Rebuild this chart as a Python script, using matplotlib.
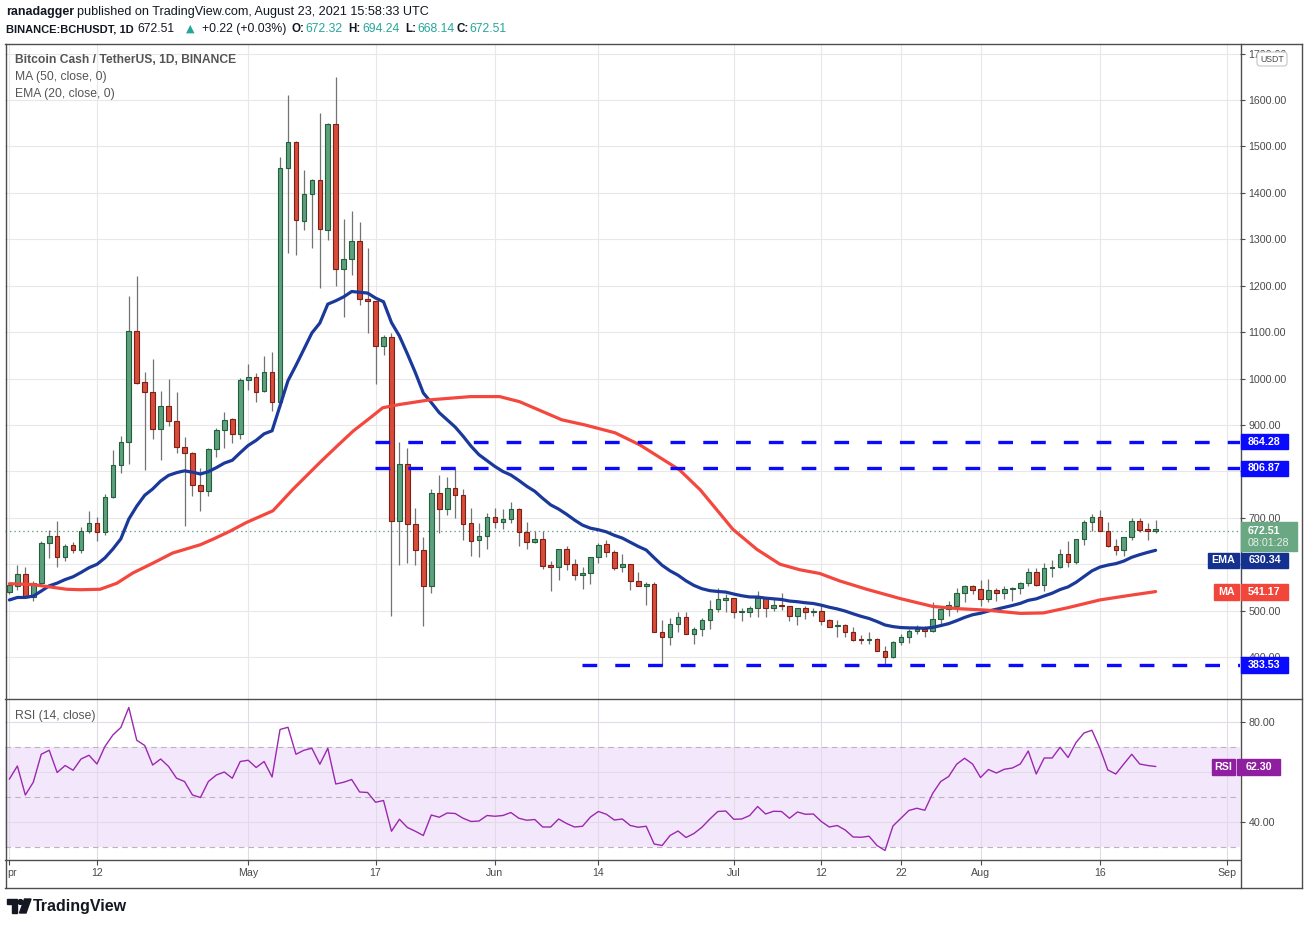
import numpy as np
import matplotlib
matplotlib.use('Agg')
import matplotlib.pyplot as plt
from matplotlib.transforms import IdentityTransform
from matplotlib.patches import Rectangle, FancyBboxPatch, Polygon, Circle

plt.rcParams['font.family'] = ['Liberation Sans', 'DejaVu Sans']
plt.rcParams['lines.scale_dashes'] = False

# ---------------- data (daily candles, Apr 1 2021 .. Aug 23 2021) ----------------
opens = [540, 554, 579, 529, 559, 645, 660, 615, 641, 630, 671, 689, 669, 745, 814, 863, 1102, 992, 971, 891,
         941, 908, 852, 840, 770, 757, 848, 890, 912, 881, 996, 1004, 973, 1014, 950, 1453, 1509, 1339, 1397, 1428,
         1320, 1548, 1236, 1257, 1296, 1171, 1167, 1071, 1090, 694, 816, 687, 630, 552, 753, 719, 764, 749, 689, 652,
         661, 702, 691, 698, 719, 670, 648, 655, 597, 594, 633, 601, 577, 580, 615, 643, 627, 593, 600, 563,
         552, 557, 455, 444, 472, 487, 449, 460, 480, 503, 523, 527, 496, 496, 505, 527, 505, 512, 509, 489,
         505, 496, 499, 480, 466, 469, 455, 439, 436, 439, 414, 399, 432, 444, 456, 461, 456, 482, 504, 511,
         539, 552, 546, 526, 545, 539, 546, 549, 559, 584, 556, 591, 593, 621, 605, 655, 691, 702, 671, 639,
         631, 659, 693, 674, 672.32]
highs = [560, 599, 594, 564, 649, 674, 694, 644, 648, 681, 715, 701, 752, 847, 877, 1177, 1220, 1014, 1041, 974,
         1000, 972, 875, 842, 808, 850, 893, 928, 915, 1001, 1032, 1011, 1049, 1057, 1477, 1611, 1511, 1449, 1430, 1571,
         1551, 1650, 1343, 1361, 1338, 1282, 1167, 1093, 1098, 863, 850, 721, 659, 761, 793, 788, 806, 761, 721, 689,
         710, 721, 718, 735, 720, 690, 671, 671, 607, 633, 640, 612, 595, 615, 645, 652, 630, 621, 600, 584,
         561, 562, 480, 485, 496, 498, 464, 485, 523, 548, 535, 527, 505, 510, 543, 528, 525, 538, 509, 505,
         509, 505, 509, 483, 480, 471, 464, 447, 454, 442, 424, 435, 450, 461, 468, 466, 518, 511, 521, 548,
         555, 555, 566, 568, 548, 552, 550, 562, 591, 591, 602, 609, 632, 651, 655, 695, 709, 716, 691, 655,
         659, 700, 700, 689, 694.24]
lows = [535, 545, 527, 520, 556, 613, 593, 607, 624, 624, 667, 651, 663, 742, 796, 816, 988, 803, 870, 825,
        897, 839, 683, 746, 714, 747, 830, 850, 860, 869, 975, 949, 971, 930, 939, 1270, 1267, 1320, 1282, 1196,
        1299, 1199, 1132, 1222, 1159, 1098, 989, 1050, 489, 598, 602, 598, 467, 539, 668, 705, 700, 652, 617, 616,
        633, 678, 675, 688, 640, 633, 645, 589, 542, 566, 587, 567, 546, 558, 602, 616, 588, 584, 545, 552,
        512, 455, 381, 427, 455, 449, 428, 446, 460, 497, 497, 485, 477, 487, 487, 487, 500, 502, 478, 470,
        483, 489, 470, 464, 444, 444, 435, 428, 429, 414, 385, 397, 425, 431, 450, 443, 455, 466, 489, 498,
        518, 536, 511, 519, 521, 524, 521, 536, 552, 552, 543, 573, 591, 593, 601, 641, 671, 671, 637, 620,
        618, 652, 669, 652, 668.14]
closes = [556, 579, 529, 559, 645, 660, 615, 640, 630, 671, 689, 669, 745, 814, 863, 1102, 990, 971, 891, 941,
          908, 852, 839, 770, 757, 848, 890, 911, 881, 996, 1004, 971, 1014, 950, 1453, 1509, 1341, 1397, 1428, 1322,
          1548, 1236, 1257, 1296, 1171, 1167, 1071, 1090, 694, 816, 687, 630, 552, 753, 719, 764, 749, 687, 650, 661,
          702, 691, 698, 719, 670, 648, 655, 597, 594, 633, 601, 577, 580, 615, 642, 627, 591, 600, 563, 552,
          557, 455, 444, 472, 487, 449, 460, 480, 503, 525, 527, 496, 497, 505, 527, 505, 512, 509, 489, 505,
          496, 500, 478, 465, 469, 455, 437, 436, 439, 414, 399, 432, 444, 456, 461, 456, 482, 504, 512, 539,
          552, 545, 526, 545, 539, 546, 549, 559, 584, 556, 591, 593, 621, 605, 655, 691, 702, 671, 639, 631,
          659, 693, 674, 672, 672.51]

# EMA(20) value just before Apr 1, used as the starting value
ema_start = 519.5

# MA(50) line: (day index, value)
ma_days = [0, 3, 7.2, 8.9, 11.4, 13.5, 15.5, 18, 20.5, 24, 25.6, 27.7, 29.8, 33.1, 35.6, 39, 41.2, 43.2, 45.3,
           46.9, 49, 52.8, 57.9, 61.6, 64.1, 69.4, 72.3, 76.1, 79.2, 84.2, 86.8, 90.9, 93.9, 96.8, 99.3, 101.8,
           104.3, 107.7, 111.9, 116, 119.4, 122.8, 127, 129.9, 132.9, 137, 140.4, 144]
ma_vals = [558, 556, 546, 545, 546, 559, 581, 602, 624, 642, 654, 671, 690, 715, 761, 819, 855, 887, 915,
           937, 944, 954, 961, 961, 950, 911, 900, 883, 857, 803, 760, 675, 632, 600, 588, 580,
           564, 546, 526, 509, 504, 501, 494, 495, 506, 523, 532, 541]

# RSI(14) values, one per day
rsi = [57.3, 62.5, 50.9, 56.0, 67.2, 68.8, 59.9, 62.7, 60.8, 65.3,
       66.8, 63.3, 70.3, 74.9, 77.9, 85.9, 72.8, 70.7, 62.9, 65.3,
       62.3, 57.6, 56.3, 50.9, 49.9, 56.3, 58.9, 60.1, 57.6, 64.3,
       64.8, 61.9, 64.3, 58.1, 77.1, 78.0, 67.2, 68.8, 69.6, 63.2,
       69.6, 55.3, 56.0, 57.1, 52.1, 51.9, 48.0, 48.7, 36.4, 41.2,
       37.9, 36.4, 34.7, 42.9, 42.0, 43.7, 43.5, 41.6, 40.3, 40.5,
       42.7, 42.4, 42.7, 43.9, 41.6, 40.8, 41.1, 38.1, 38.1, 41.3,
       39.5, 38.1, 38.4, 42.1, 44.3,
       43.2, 40.9, 41.3, 38.7, 38.0, 38.4, 31.3, 30.7, 34.7, 36.5,
       33.9, 35.5, 38.0, 41.3, 44.3, 44.5, 41.2, 41.3, 42.7, 46.3,
       43.3, 44.4, 44.3, 41.6, 44.1, 43.2, 43.3, 40.3, 38.1, 38.7,
       36.9, 34.1, 34.0, 34.4, 30.7, 28.7, 38.5, 41.6, 44.7, 45.6,
       44.8, 51.6, 56.3, 58.3, 63.2, 65.6, 63.3, 57.9, 61.1, 59.7,
       61.2, 61.7, 63.3, 68.5, 59.3, 65.7, 65.7, 70.0, 65.9, 71.9,
       75.7, 76.8, 69.6, 60.9, 59.3, 63.3, 67.2, 63.3, 62.7, 62.3]

# horizontal levels (value, starting day)
levels = [864.28, 806.87, 383.53]
level_start = [45.9, 45.9, 71.9]

last_price = 672.51
countdown = '08:01:28'
ema_label = 630.34
ma_label = 541.17
rsi_label = 62.30

tick_days = [0, 11, 30, 46, 61, 74, 91, 102, 112, 122, 137, 153]
tick_labels = ['', '12', 'May', '17', 'Jun', '14', 'Jul', '12', '22', 'Aug', '16', 'Sep']
first_tick_text = 'pr'
price_ticks = list(range(400, 1800, 100))
hidden_price_ticks = [800]          # covered by the 806.87 tag in the original
rsi_ticks = [40, 60, 80]

# ---------------- figure ----------------
W, H = 1309, 925
fig = plt.figure(figsize=(W / 100, H / 100), dpi=100)
fig.patch.set_facecolor('white')


def rect(x0, y0, x1, y1):
    return [x0 / W, 1 - y1 / H, (x1 - x0) / W, (y1 - y0) / H]


ax = fig.add_axes(rect(5, 44, 1240, 699))
ax2 = fig.add_axes(rect(5, 699, 1240, 860))
XL = (-0.553, 154.6)
for a in (ax, ax2):
    a.set_xlim(*XL)
    for s in a.spines.values():
        s.set_visible(False)
    a.set_axisbelow(True)
    a.set_facecolor('none')

ax.set_ylim(309.6, 1720.6)
ax2.set_ylim(24.9, 89.3)

GRID = '#e8e8e8'
TXT = '#4a4a4a'

# price pane ticks / grid
ax.set_xticks(tick_days)
ax.tick_params(axis='x', bottom=False, labelbottom=False)
ax.set_yticks(price_ticks)
ax.set_yticklabels(['' if v in hidden_price_ticks else f'{v:.2f}' for v in price_ticks])
ax.yaxis.tick_right()
ax.tick_params(axis='y', length=3.6, width=0.8, color=TXT, labelsize=7.7, labelcolor=TXT, pad=2.4)
ax.grid(True, color=GRID, lw=0.8)

# candles
o = np.array(opens, float)
h = np.array(highs, float)
l = np.array(lows, float)
c = np.array(closes, float)
days = np.arange(len(c))
up = c >= o
fill = np.where(up, '#5e9f7d', '#d84c3b')
edge = np.where(up, '#22603c', '#7d2015')
ax.vlines(days, l, h, color='#737373', lw=0.9, zorder=2)
ax.bar(days, np.maximum(np.abs(c - o), 3.5), bottom=np.minimum(o, c), width=0.58,
       color=fill, edgecolor=edge, linewidth=0.8, zorder=3)

# EMA 20 from closes
alpha = 2 / 21
ema = []
e = ema_start
for v in c:
    e = e + alpha * (v - e)
    ema.append(e)
ax.plot(days, ema, color='#1a399a', lw=2.3, zorder=4, solid_capstyle='round')
ax.plot(ma_days, ma_vals, color='#f4473d', lw=2.3, zorder=4, solid_capstyle='round')

# levels
for v, s in zip(levels, level_start):
    ax.plot([s, XL[1]], [v, v], color='#0a0aff', lw=2.4, dashes=(10.6, 13), zorder=5,
            solid_capstyle='butt', dash_capstyle='butt')
ax.axhline(last_price, color='#5f9f80', lw=0.9, dashes=(1, 2.2), zorder=1)

# RSI pane
ax2.axhspan(30, 70, color='#f3e8fb', zorder=0, lw=0)
ax2.set_xticks(tick_days)
ax2.set_xticklabels(tick_labels)
ax2.set_yticks(rsi_ticks)
ax2.set_yticklabels([f'{v:.2f}' for v in rsi_ticks])
ax2.yaxis.tick_right()
ax2.tick_params(axis='y', length=3.6, width=0.8, color=TXT, labelsize=7.7, labelcolor=TXT, pad=2.4)
ax2.tick_params(axis='x', length=3.6, width=0.8, color=TXT, labelsize=7.7, labelcolor=TXT, pad=1.8)
ax2.grid(True, color='#e2dbe7', lw=0.8)
for v in (30, 50, 70):
    ax2.axhline(v, color='#b9b4bd', lw=0.8, dashes=(4, 3), zorder=1)
ax2.plot(days, rsi, color='#9c27b0', lw=1.0, zorder=3)

# ---------------- frame lines ----------------
ID = IdentityTransform()


def hline(x0, x1, y, **kw):
    fig.add_artist(plt.Line2D([x0, x1], [H - y, H - y], transform=ID, **kw))


def vline(x, y0, y1, **kw):
    fig.add_artist(plt.Line2D([x, x], [H - y0, H - y1], transform=ID, **kw))


FR = dict(color='#4d4d4d', lw=1.0, zorder=10)
hline(5, 1302, 43.5, **FR)
hline(5, 1302, 888, **FR)
vline(5.5, 43.5, 888, **FR)
vline(1302, 43.5, 888, **FR)
hline(5, 1302, 699, **FR)
hline(5, 1240, 860, **FR)
vline(1240.5, 43.5, 888, **FR)


# ---------------- right axis tags ----------------
def ydisp(a, v):
    return a.transData.transform((0, v))[1]


def tag(a, v, text, fc, x0, x1, hgt=15, tc='white', size=7.7, weight='bold', shift=0):
    yd = ydisp(a, v) - shift
    fig.add_artist(Rectangle((x0, yd - hgt / 2), x1 - x0, hgt, transform=ID, fc=fc, ec=fc, zorder=20))
    fig.text((x0 + x1) / 2, yd, text, transform=ID, ha='center', va='center', color=tc,
             fontsize=size, fontweight=weight, zorder=21)


BLUE = '#0a0aff'
tag(ax, levels[0], f'{levels[0]:.2f}', BLUE, 1241, 1288)
tag(ax, levels[1], f'{levels[1]:.2f}', BLUE, 1241, 1288)
tag(ax, levels[2], f'{levels[2]:.2f}', BLUE, 1241, 1288, hgt=16)
# EMA tag is pushed below the last-price box, as in the original
tag(ax, ema_label, f'{ema_label:.2f}', '#15318f', 1241, 1288, shift=10)
tag(ax, ema_label, 'EMA', '#15318f', 1208, 1239, shift=10)
tag(ax, ma_label, f'{ma_label:.2f}', '#f2463b', 1241, 1288, hgt=16)
tag(ax, ma_label, 'MA', '#f2463b', 1214, 1239, hgt=16)
tag(ax2, rsi_label, f'{rsi_label:.2f}', '#8f1fa0', 1237, 1280, hgt=16)
tag(ax2, rsi_label, 'RSI', '#8f1fa0', 1212, 1235, hgt=16)

# last price box with countdown
yd = ydisp(ax, last_price)
fig.add_artist(Rectangle((1241, yd - 20), 56, 29, transform=ID, fc='#6aa783', ec='#6aa783', zorder=20))
fig.text(1248, yd, f'{last_price:.2f}', transform=ID, ha='left', va='center', color='white',
         fontsize=7.7, fontweight='bold', zorder=21)
fig.text(1248, yd - 12.5, countdown, transform=ID, ha='left', va='center', color='#e4f1e9',
         fontsize=7.7, zorder=21)

# USDT box
fig.add_artist(FancyBboxPatch((1257, H - 66), 30, 14, boxstyle='round,pad=0,rounding_size=3', transform=ID,
                              fc='white', ec='#c4c4c4', lw=0.8, zorder=20))
fig.text(1272, H - 59, 'USDT', transform=ID, ha='center', va='center', color=TXT, fontsize=6.3, zorder=21)

# ---------------- texts ----------------
HDR = '#131722'
GREEN = '#26a69a'


def t(x, y, s, **kw):
    kw.setdefault('va', 'center')
    kw.setdefault('ha', 'left')
    fig.text(x / W, 1 - y / H, s, **kw)


t(7, 873, first_tick_text, fontsize=7.7, color=TXT)

t(6, 12, 'ranadagger', fontsize=9.0, fontweight='bold', color=HDR)
t(77, 12, 'published on TradingView.com, August 23, 2021 15:58:33 UTC', fontsize=9.1, color=HDR)
t(6, 29, 'BINANCE:BCHUSDT, 1D', fontsize=8.0, fontweight='bold', color=HDR)
t(137, 29, '672.51', fontsize=8.8, color=HDR)
t(186, 29, '▲', fontsize=8, color=GREEN, family=['DejaVu Sans'])
t(202, 29, '+0.22 (+0.03%)', fontsize=8.8, color=HDR)
t(291, 29, 'O:', fontsize=8.4, fontweight='bold', color=HDR)
t(305, 29, '672.32', fontsize=8.8, color=GREEN)
t(348, 29, 'H:', fontsize=8.4, fontweight='bold', color=HDR)
t(362, 29, '694.24', fontsize=8.8, color=GREEN)
t(405, 29, 'L:', fontsize=8.4, fontweight='bold', color=HDR)
t(417, 29, '668.14', fontsize=8.8, color=GREEN)
t(457, 29, 'C:', fontsize=8.4, fontweight='bold', color=HDR)
t(469, 29, '672.51', fontsize=8.8, color=GREEN)

LEG = '#555555'
t(15, 60, 'Bitcoin Cash / TetherUS, 1D, BINANCE', fontsize=8.7, fontweight='bold', color=LEG)
t(15, 77, 'MA (50, close, 0)', fontsize=8.7, color=LEG)
t(15, 94, 'EMA (20, close, 0)', fontsize=8.7, color=LEG)
t(15, 716, 'RSI (14, close)', fontsize=8.7, color=LEG)

# TradingView logo
LOGO = '#131722'
fig.add_artist(Polygon([(7, H - 899), (17, H - 899), (17, H - 913), (12, H - 913), (12, H - 904), (7, H - 904)],
                       closed=True, transform=ID, fc=LOGO, ec=LOGO))
fig.add_artist(Circle((20.5, H - 902), 2.4, transform=ID, fc=LOGO, ec=LOGO))
fig.add_artist(Polygon([(24.5, H - 899), (31, H - 899), (26, H - 913), (19.5, H - 913)],
                       closed=True, transform=ID, fc=LOGO, ec=LOGO))
t(33, 906, 'TradingView', fontsize=11.5, fontweight='bold', color=LOGO)

fig.savefig('out.png', dpi=100, facecolor='white')
